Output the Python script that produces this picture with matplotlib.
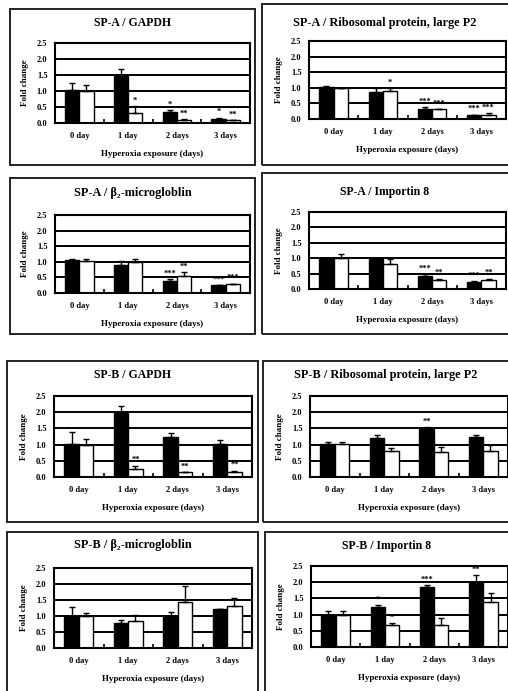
import numpy as np
import matplotlib
matplotlib.use("Agg")
import matplotlib.pyplot as plt
from matplotlib.patches import Rectangle

plt.rcParams['font.family'] = ['Liberation Serif', 'DejaVu Serif']
plt.rcParams['font.weight'] = 'bold'

W, H = 508, 691

days = ["0 day", "1 day", "2 days", "3 days"]

titles = [
    "SP-A / GAPDH",
    "SP-A / Ribosomal protein, large P2",
    "SP-A / \u03b2\u2082-microgloblin",
    "SP-A / Importin 8",
    "SP-B / GAPDH",
    "SP-B / Ribosomal protein, large P2",
    "SP-B / \u03b2\u2082-microgloblin",
    "SP-B / Importin 8",
]

# black bars (control) and white bars (second series), with upper error
black_vals = [
    [1.02, 1.46, 0.33, 0.13],
    [1.02, 0.88, 0.33, 0.12],
    [1.05, 0.91, 0.40, 0.25],
    [1.02, 0.96, 0.42, 0.24],
    [1.01, 1.99, 1.22, 1.01],
    [1.01, 1.20, 1.49, 1.22],
    [1.00, 0.77, 1.00, 1.22],
    [0.99, 1.25, 1.84, 2.02],
]
black_err = [
    [0.23, 0.22, 0.07, 0.04],
    [0.03, 0.10, 0.04, 0.02],
    [0.05, 0.12, 0.04, 0.01],
    [0.00, 0.05, 0.06, 0.01],
    [0.39, 0.20, 0.15, 0.13],
    [0.06, 0.10, 0.05, 0.08],
    [0.27, 0.10, 0.13, 0.01],
    [0.11, 0.05, 0.06, 0.20],
]
white_vals = [
    [1.00, 0.31, 0.10, 0.08],
    [1.00, 0.90, 0.32, 0.14],
    [1.04, 1.00, 0.55, 0.30],
    [1.02, 0.80, 0.29, 0.29],
    [1.00, 0.26, 0.15, 0.15],
    [1.01, 0.81, 0.76, 0.81],
    [1.00, 0.85, 1.43, 1.31],
    [0.99, 0.69, 0.69, 1.38],
]
white_err = [
    [0.20, 0.21, 0.02, 0.01],
    [0.00, 0.08, 0.01, 0.04],
    [0.05, 0.08, 0.13, 0.00],
    [0.12, 0.16, 0.05, 0.05],
    [0.17, 0.09, 0.00, 0.05],
    [0.06, 0.10, 0.18, 0.19],
    [0.08, 0.18, 0.52, 0.24],
    [0.11, 0.05, 0.20, 0.28],
]
black_sig = [
    ["", "", "*", "*"],
    ["", "", "***", "***"],
    ["", "", "***", "***"],
    ["", "", "***", "***"],
    ["", "", "", ""],
    ["", "", "**", ""],
    ["", "", "", ""],
    ["", "*", "***", "**"],
]
white_sig = [
    ["", "*", "**", "**"],
    ["", "*", "***", "***"],
    ["", "", "**", "***"],
    ["", "", "**", "**"],
    ["", "**", "**", "**"],
    ["", "", "", ""],
    ["", "", "", ""],
    ["", "*", "", ""],
]

# layout in pixels: panel frame boxes and plot areas (x0, y0, x1, y1 from top-left)
boxes = [(10, 9, 255, 165), (262, 4, 512, 165),
         (10, 178, 255, 334), (262, 173, 512, 334),
         (7, 361, 258, 522), (263, 361, 512, 522),
         (7, 532, 258, 695), (265, 532, 512, 695)]
areas = [(55, 43, 250, 123), (309, 41, 506, 119),
         (55, 215, 250, 293), (309, 212, 506, 289),
         (54, 396, 252, 477), (310, 396, 508, 477),
         (54, 568, 252, 648), (311, 566, 508, 647)]
title_y = [23, 23, 193, 192, 375, 375, 545, 546]


def fx(x):
    return x / W


def fy(y):
    return 1 - y / H


fig = plt.figure(figsize=(W / 100, H / 100), dpi=100)

for i in range(8):
    bx0, by0, bx1, by1 = boxes[i]
    fig.add_artist(Rectangle((fx(bx0), fy(by1)), fx(bx1 - bx0), (by1 - by0) / H,
                             transform=fig.transFigure, fill=False,
                             lw=1.4, ec='#222222'))
    ax0, ay0, ax1, ay1 = areas[i]
    ax = fig.add_axes([fx(ax0), fy(ay1), fx(ax1 - ax0), (ay1 - ay0) / H])

    x = np.arange(len(days))
    w = 0.29
    ax.bar(x - w / 2, black_vals[i], w, color='black', edgecolor='black', lw=1.0, zorder=2)
    ax.bar(x + w / 2, white_vals[i], w, color='white', edgecolor='black', lw=1.0, zorder=2)
    ax.errorbar(x - w / 2, black_vals[i], yerr=[np.zeros(4), black_err[i]], fmt='none',
                ecolor='black', elinewidth=1.0, capsize=2, capthick=1.0, zorder=3)
    ax.errorbar(x + w / 2, white_vals[i], yerr=[np.zeros(4), white_err[i]], fmt='none',
                ecolor='black', elinewidth=1.0, capsize=2, capthick=1.0, zorder=3)
    for j in range(4):
        if black_sig[i][j]:
            ax.annotate(black_sig[i][j], (x[j] - w / 2, black_vals[i][j] + black_err[i][j]),
                        xytext=(0, 1), textcoords='offset points', ha='center',
                        va='bottom', fontsize=6, fontweight='bold', zorder=5)
        if white_sig[i][j]:
            ax.annotate(white_sig[i][j], (x[j] + w / 2, white_vals[i][j] + white_err[i][j]),
                        xytext=(0, 1), textcoords='offset points', ha='center',
                        va='bottom', fontsize=6, fontweight='bold', zorder=5)

    ax.set_xlim(-0.5, 3.5)
    ax.set_ylim(0, 2.5)
    ax.set_yticks([0, 0.5, 1.0, 1.5, 2.0, 2.5])
    ax.set_yticklabels(["0.0", "0.5", "1.0", "1.5", "2.0", "2.5"])
    ax.set_xticks(x)
    ax.set_xticklabels(days)
    ax.set_xticks([0.5, 1.5, 2.5], minor=True)
    ax.tick_params(axis='y', length=0, pad=5.5, labelsize=6)
    ax.tick_params(axis='x', which='major', length=0, pad=6.5, labelsize=6)
    ax.tick_params(axis='x', which='minor', length=3, width=1.2, direction='in')
    ax.set_axisbelow(True)
    ax.grid(axis='y', color='black', lw=1.4)
    for s in ax.spines.values():
        s.set_linewidth(1.5)

    fig.text(fx((bx0 + bx1 if i % 2 == 0 else bx0 + 508) / 2), fy(title_y[i]), titles[i],
             ha='center', va='center', fontsize=8.8 if len(titles[i]) > 20 else 8.5,
             fontweight='bold')
    fig.text(fx(ax0 - 30), fy((ay0 + ay1) / 2), "Fold change", rotation=90,
             ha='center', va='center', fontsize=6.5, fontweight='bold')
    fig.text(fx((ax0 + ax1) / 2), fy(ay1 + 31), "Hyperoxia exposure (days)",
             ha='center', va='center', fontsize=6.5, fontweight='bold')

fig.savefig("out.png", dpi=100)
plt.close(fig)
